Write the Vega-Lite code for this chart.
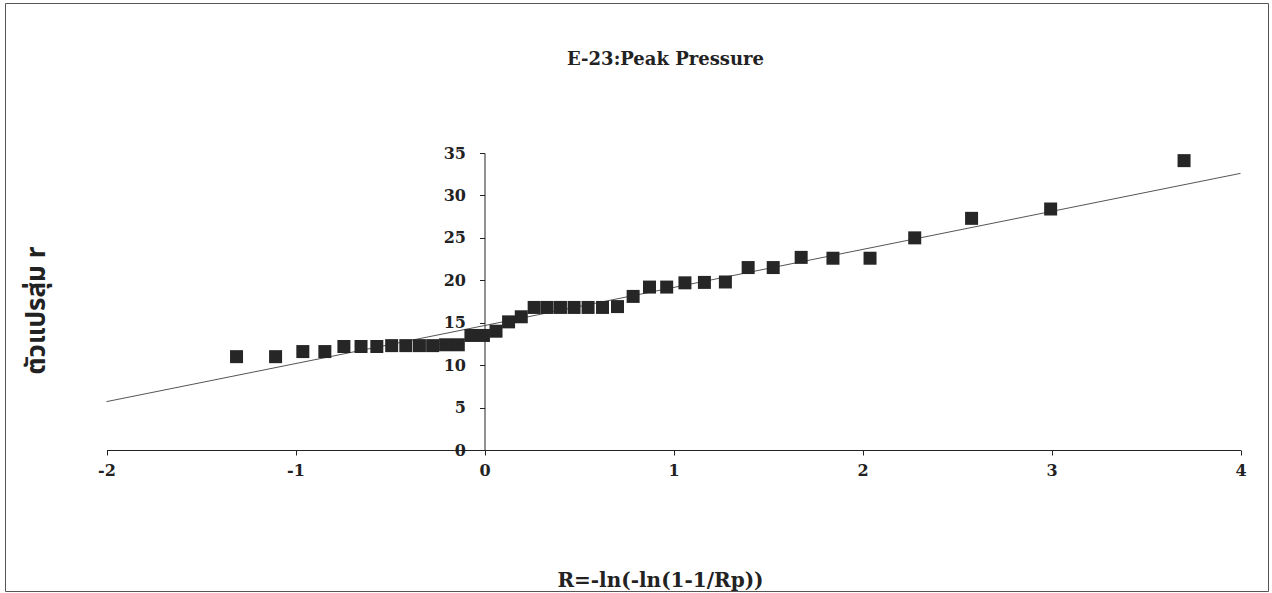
{
  "$schema": "https://vega.github.io/schema/vega-lite/v6.json",
  "width": 1263,
  "height": 588,
  "autosize": "none",
  "padding": {"left": 5, "top": 3, "right": 4, "bottom": 2},
  "background": "white",
  "config": {
    "view": {"stroke": "#555", "strokeWidth": 1},
    "axis": {
      "grid": false,
      "domainColor": "#222",
      "tickColor": "#222",
      "tickSize": 5,
      "labelFont": "DejaVu Serif",
      "labelFontWeight": "bold",
      "labelFontSize": 16,
      "labelColor": "#222",
      "labelFlush": false,
      "labelOverlap": false,
      "titleColor": "#222"
    }
  },
  "title": {
    "text": "E-23:Peak Pressure",
    "font": "DejaVu Serif",
    "fontSize": 18,
    "fontWeight": "bold",
    "color": "#222",
    "anchor": "middle",
    "frame": "group",
    "offset": 0,
    "baseline": "middle",
    "dy": 75,
    "dx": 29
  },
  "datasets": {
    "points": [
      {"R": -1.3120, "r": 11.0},
      {"R": -1.1054, "r": 11.0},
      {"R": -0.9612, "r": 11.6},
      {"R": -0.8447, "r": 11.6},
      {"R": -0.7439, "r": 12.2},
      {"R": -0.6533, "r": 12.2},
      {"R": -0.5697, "r": 12.2},
      {"R": -0.4911, "r": 12.3},
      {"R": -0.4163, "r": 12.3},
      {"R": -0.3443, "r": 12.3},
      {"R": -0.2744, "r": 12.3},
      {"R": -0.2059, "r": 12.4},
      {"R": -0.1386, "r": 12.4},
      {"R": -0.0719, "r": 13.5},
      {"R": -0.0055, "r": 13.5},
      {"R": 0.0609, "r": 14.0},
      {"R": 0.1274, "r": 15.1},
      {"R": 0.1946, "r": 15.7},
      {"R": 0.2627, "r": 16.8},
      {"R": 0.3315, "r": 16.8},
      {"R": 0.4019, "r": 16.8},
      {"R": 0.4739, "r": 16.8},
      {"R": 0.5480, "r": 16.8},
      {"R": 0.6245, "r": 16.8},
      {"R": 0.7038, "r": 16.9},
      {"R": 0.7864, "r": 18.1},
      {"R": 0.8729, "r": 19.2},
      {"R": 0.9640, "r": 19.2},
      {"R": 1.0605, "r": 19.7},
      {"R": 1.1636, "r": 19.75},
      {"R": 1.2745, "r": 19.8},
      {"R": 1.3950, "r": 21.5},
      {"R": 1.5276, "r": 21.5},
      {"R": 1.6755, "r": 22.7},
      {"R": 1.8437, "r": 22.6},
      {"R": 2.0399, "r": 22.6},
      {"R": 2.2763, "r": 25.0},
      {"R": 2.5771, "r": 27.3},
      {"R": 2.9955, "r": 28.4},
      {"R": 3.7013, "r": 34.1}
    ],
    "fit": [
      {"R": -2, "r": 5.7},
      {"R": 4, "r": 32.6}
    ]
  },
  "encoding": {
    "x": {
      "field": "R",
      "type": "quantitative",
      "scale": {"domain": [-2, 4], "range": [101.5, 1235.5], "nice": false, "zero": false},
      "axis": {
        "values": [-2, -1, 0, 1, 2, 3, 4],
        "labelExpr": "replace(datum.label, '−', '-')",
        "offset": -141,
        "labelPadding": 7,
        "title": "R=-ln(-ln(1-1/Rp))",
        "titleFont": "DejaVu Serif",
        "titleFontSize": 20,
        "titleFontWeight": "bold",
        "titleX": 655,
        "titleY": 130,
        "titleAlign": "center",
        "titleBaseline": "middle"
      }
    },
    "y": {
      "field": "r",
      "type": "quantitative",
      "scale": {"domain": [0, 35], "range": [447, 150], "nice": false, "zero": false},
      "axis": {
        "values": [0, 5, 10, 15, 20, 25, 30, 35],
        "offset": -479.5,
        "labelPadding": 14,
        "title": "ตัวแปรสุ่ม r",
        "titleFont": "Noto Sans Thai, Noto Sans, DejaVu Sans, sans-serif",
        "titleFontSize": 26,
        "titleFontWeight": "bold",
        "titleAngle": -90,
        "titleX": -448,
        "titleY": 307,
        "titleAlign": "center",
        "titleBaseline": "middle"
      }
    }
  },
  "layer": [
    {
      "data": {"name": "fit"},
      "mark": {"type": "line", "color": "#555", "strokeWidth": 1}
    },
    {
      "data": {"name": "points"},
      "mark": {"type": "square", "filled": true, "size": 169, "color": "#262626", "opacity": 1}
    }
  ]
}
